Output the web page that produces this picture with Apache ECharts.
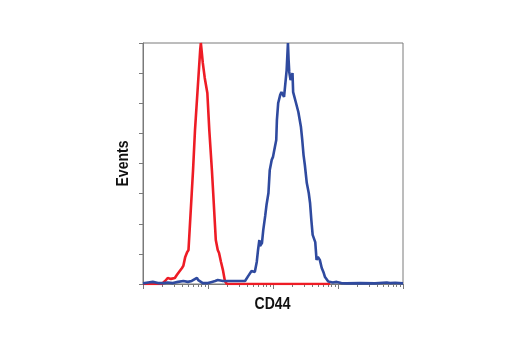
<!DOCTYPE html>
<html>
<head>
<meta charset="utf-8">
<script src="https://cdn.jsdelivr.net/npm/echarts@6/dist/echarts.min.js"></script>
<style>
html,body{margin:0;padding:0;background:#fff;}
#chart{width:520px;height:350px;}
</style>
</head>
<body>
<div id="chart"></div>
<script>
// x = log10 of CD44 intensity (4 decades), y = event counts
var redX = [0, 0.18, 0.29, 0.34, 0.38, 0.43, 0.46, 0.49, 0.52, 0.55, 0.60, 0.62, 0.65, 0.68, 0.70, 0.72, 0.75, 0.77, 0.80, 0.84, 0.88, 0.89, 0.92, 0.95, 0.99, 1.02, 1.06, 1.08, 1.12, 1.15, 1.17, 1.20, 1.23, 1.26, 1.29, 1.49, 2.88];
var redY = [0, 0, 0, 10, 20, 17, 23, 20, 30, 33, 53, 60, 90, 106, 113, 189, 302, 378, 511, 644, 777, 800, 734, 684, 634, 511, 378, 302, 146, 113, 103, 73, 46, 10, 0, 0, 0];

var blueX = [0, 0.08, 0.15, 0.23, 0.31, 0.38, 0.46, 0.54, 0.62, 0.69, 0.75, 0.83, 0.85, 0.88, 0.92, 1.00, 1.06, 1.11, 1.15, 1.18, 1.23, 1.29, 1.42, 1.57, 1.62, 1.67, 1.70, 1.72, 1.75, 1.77, 1.79, 1.80, 1.83, 1.85, 1.88, 1.90, 1.93, 1.95, 1.98, 2.00, 2.02, 2.05, 2.06, 2.08, 2.11, 2.13, 2.15, 2.17, 2.20, 2.21, 2.23, 2.24, 2.25, 2.27, 2.30, 2.31, 2.35, 2.39, 2.43, 2.45, 2.47, 2.49, 2.52, 2.55, 2.57, 2.59, 2.61, 2.65, 2.67, 2.69, 2.72, 2.75, 2.78, 2.80, 2.85, 2.92, 2.98, 3.05, 3.13, 3.34, 3.57, 3.75, 3.80, 3.88, 4.00];
var blueY = [2, 5, 7, 3, 3, 5, 3, 7, 10, 7, 10, 20, 13, 13, 3, 3, 7, 10, 13, 17, 10, 10, 10, 10, 27, 43, 37, 40, 73, 113, 146, 126, 136, 179, 226, 262, 302, 378, 412, 422, 445, 478, 544, 601, 627, 637, 631, 621, 627, 710, 800, 744, 704, 677, 700, 637, 604, 571, 521, 478, 428, 395, 335, 302, 269, 212, 163, 139, 80, 90, 80, 53, 37, 23, 8, 5, 7, 3, 2, 3, 2, 5, 3, 4, 2];

// decade ticks and the 2..9 minor ticks inside each decade (raw intensity values)
var majorTicks = [1, 10, 100, 1000, 10000];
var minorTicks = [];
for (var d = 1; d < 10000; d *= 10) {
    for (var k = 2; k <= 9; k++) minorTicks.push(k * d);
}

var xTitle = 'CD44';
var yTitle = 'Events';

function pairs(xs, ys) {
    var out = [];
    for (var i = 0; i < xs.length; i++) out.push([xs[i], ys[i]]);
    return out;
}

var axisGray = '#7a7a7a';
// condensed bold look: Liberation Sans squeezed horizontally
var titleFont = 'bold 16.5px "Liberation Sans", Arial, sans-serif';

var myChart = echarts.init(document.getElementById('chart'));
var option = {
    animation: false,
    backgroundColor: '#fff',
    grid: {
        left: 143, top: 43, width: 260, height: 241,
        show: true, borderColor: axisGray, borderWidth: 1
    },
    xAxis: [
        {
            type: 'value', min: 0, max: 4, interval: 1,
            axisLine: { show: true, lineStyle: { color: axisGray, width: 1 } },
            axisTick: { show: true, length: 5, customValues: majorTicks.map(Math.log10), lineStyle: { color: axisGray } },
            axisLabel: { show: false },
            splitLine: { show: false }
        },
        {
            type: 'value', min: 0, max: 4, position: 'bottom',
            axisLine: { show: false },
            axisTick: { show: true, length: 3, customValues: minorTicks.map(Math.log10), lineStyle: { color: axisGray } },
            axisLabel: { show: false },
            splitLine: { show: false }
        }
    ],
    yAxis: {
        type: 'value', min: 0, max: 800, interval: 100,
        axisLine: { show: true, lineStyle: { color: axisGray, width: 1 } },
        axisTick: { show: true, length: 4, lineStyle: { color: axisGray } },
        axisLabel: { show: false },
        splitLine: { show: false }
    },
    graphic: [
        {
            type: 'text', x: 272.5, y: 304.5, scaleX: 0.85,
            style: { text: xTitle, font: titleFont, fill: '#111', textAlign: 'center', textVerticalAlign: 'middle' }
        },
        {
            type: 'text', x: 123.5, y: 163.5, rotation: Math.PI / 2, scaleX: 0.85,
            style: { text: yTitle, font: titleFont, fill: '#111', textAlign: 'center', textVerticalAlign: 'middle' }
        }
    ],
    series: [
        {
            name: 'isotype', type: 'line', data: pairs(redX, redY),
            showSymbol: false, symbol: 'none',
            lineStyle: { color: '#ee1c25', width: 2.6 }
        },
        {
            name: 'CD44', type: 'line', data: pairs(blueX, blueY),
            showSymbol: false, symbol: 'none',
            lineStyle: { color: '#2f4a9f', width: 2.6 }
        }
    ]
};
myChart.setOption(option);
</script>
</body>
</html>
